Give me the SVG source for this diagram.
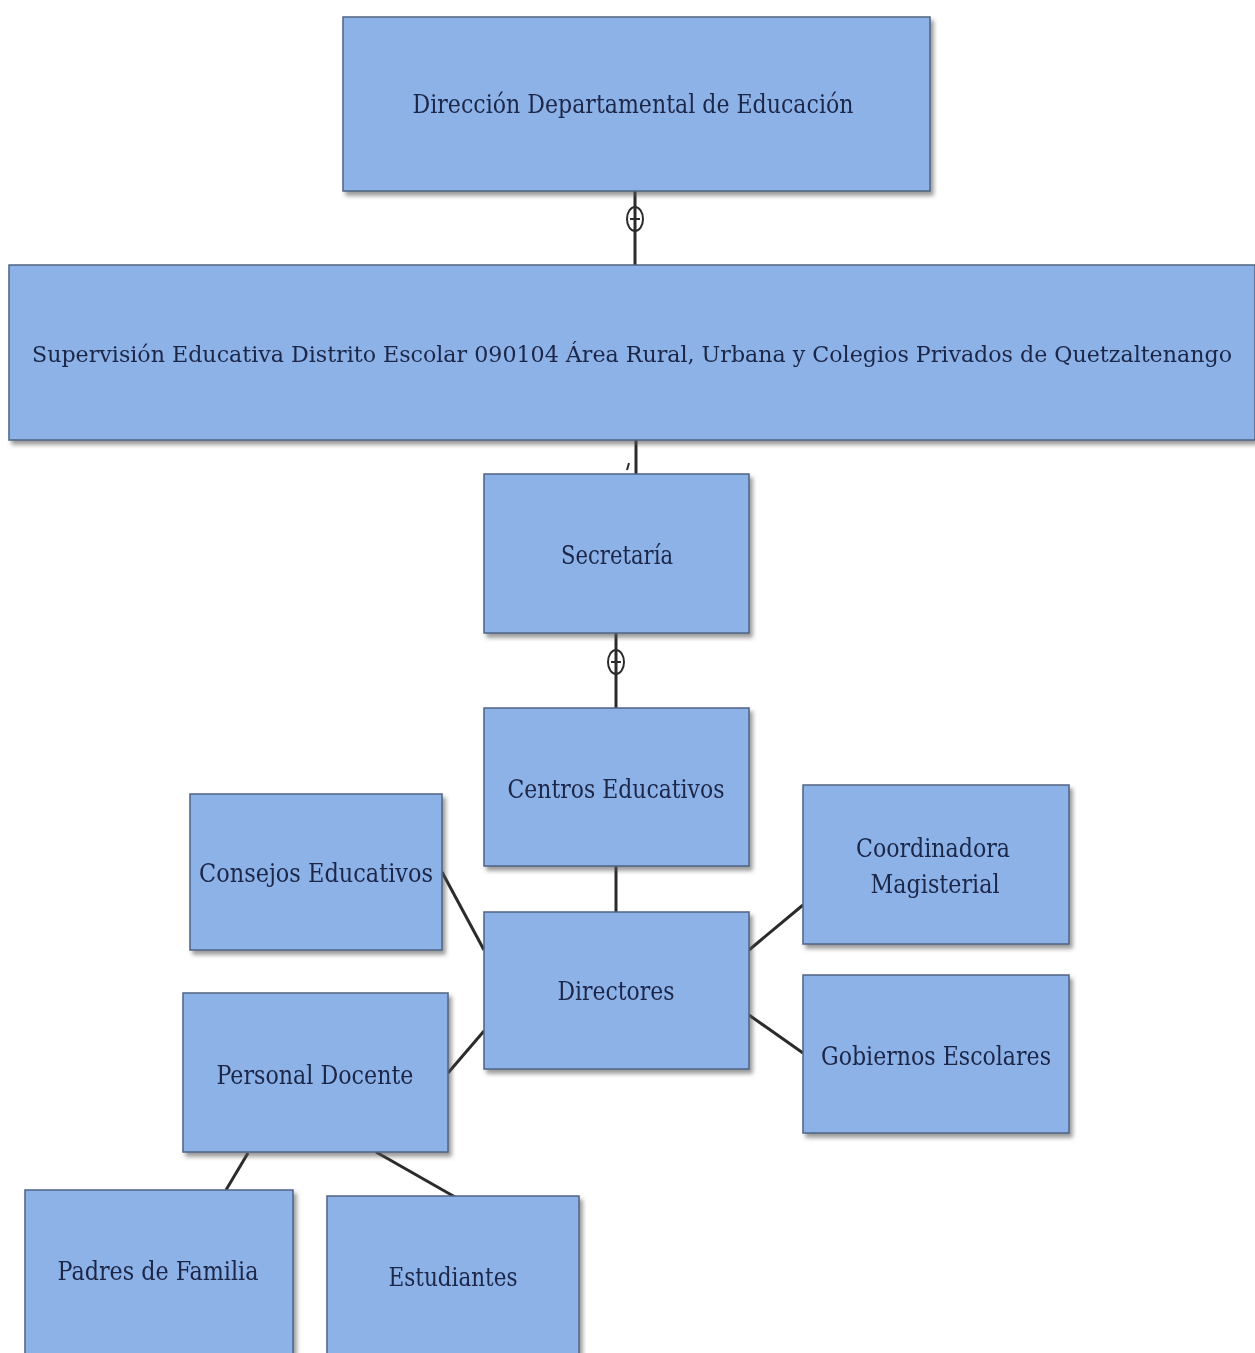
<svg xmlns="http://www.w3.org/2000/svg" width="1255" height="1353" viewBox="0 0 1255 1353">
<style>
.box{fill:#8DB2E8;stroke:#4F6384;stroke-width:1.5}
.t{font-family:"DejaVu Serif Condensed","DejaVu Serif","Liberation Serif",serif;font-size:26px;fill:#1B2546;text-anchor:middle;dominant-baseline:central}
.t.long{font-size:21.5px}
.c{stroke:#2B2B2B;stroke-width:3;fill:none}
.sym{stroke:#2B2B2B;stroke-width:2;fill:none}
</style>
<defs>
<filter id="sh" x="-10%" y="-10%" width="120%" height="130%">
<feDropShadow dx="3" dy="4" stdDeviation="2" flood-color="#555" flood-opacity="0.6"/>
</filter>
</defs>
<rect width="1255" height="1353" fill="#FFFFFF"/>
<g id="connectors">
<line class="c" x1="635" y1="191" x2="635" y2="265"/>
<ellipse class="sym" cx="635" cy="219" rx="8" ry="12"/>
<line class="sym" x1="630" y1="219" x2="640" y2="219"/>
<line class="c" x1="636" y1="440" x2="636" y2="474"/>
<line class="sym" x1="627" y1="470" x2="629" y2="463"/>
<line class="c" x1="616" y1="633" x2="616" y2="708"/>
<ellipse class="sym" cx="616" cy="662" rx="8" ry="12"/>
<line class="sym" x1="611" y1="662" x2="621" y2="662"/>
<line class="c" x1="616" y1="866" x2="616" y2="912"/>
<line class="c" x1="442" y1="872" x2="484" y2="950"/>
<line class="c" x1="448" y1="1073" x2="484" y2="1031"/>
<line class="c" x1="749" y1="950" x2="803" y2="905"/>
<line class="c" x1="749" y1="1015" x2="803" y2="1053"/>
<line class="c" x1="248" y1="1153" x2="226" y2="1190"/>
<line class="c" x1="376" y1="1152" x2="455" y2="1197"/>
</g>
<g id="n1" filter="url(#sh)">
<rect class="box" x="343" y="17" width="587" height="174"/>
<text class="t" x="633" y="104" textLength="441" lengthAdjust="spacingAndGlyphs">Dirección Departamental de Educación</text>
</g>
<g id="n2" filter="url(#sh)">
<rect class="box" x="9" y="265" width="1246" height="175"/>
<text class="t long" x="632" y="354" textLength="1200" lengthAdjust="spacingAndGlyphs">Supervisión Educativa Distrito Escolar 090104 Área Rural, Urbana y Colegios Privados de Quetzaltenango</text>
</g>
<g id="n3" filter="url(#sh)">
<rect class="box" x="484" y="474" width="265" height="159"/>
<text class="t" x="617" y="555" textLength="112" lengthAdjust="spacingAndGlyphs">Secretaría</text>
</g>
<g id="n4" filter="url(#sh)">
<rect class="box" x="484" y="708" width="265" height="158"/>
<text class="t" x="616" y="789" textLength="217" lengthAdjust="spacingAndGlyphs">Centros Educativos</text>
</g>
<g id="n5" filter="url(#sh)">
<rect class="box" x="484" y="912" width="265" height="157"/>
<text class="t" x="616" y="991" textLength="117" lengthAdjust="spacingAndGlyphs">Directores</text>
</g>
<g id="n6" filter="url(#sh)">
<rect class="box" x="190" y="794" width="252" height="156"/>
<text class="t" x="316" y="873" textLength="234" lengthAdjust="spacingAndGlyphs">Consejos Educativos</text>
</g>
<g id="n7" filter="url(#sh)">
<rect class="box" x="183" y="993" width="265" height="159"/>
<text class="t" x="315" y="1075" textLength="197" lengthAdjust="spacingAndGlyphs">Personal Docente</text>
</g>
<g id="n8" filter="url(#sh)">
<rect class="box" x="803" y="785" width="266" height="159"/>
<text class="t" x="933" y="848" textLength="154" lengthAdjust="spacingAndGlyphs">Coordinadora</text>
<text class="t" x="935" y="884" textLength="129" lengthAdjust="spacingAndGlyphs">Magisterial</text>
</g>
<g id="n9" filter="url(#sh)">
<rect class="box" x="803" y="975" width="266" height="158"/>
<text class="t" x="936" y="1056" textLength="230" lengthAdjust="spacingAndGlyphs">Gobiernos Escolares</text>
</g>
<g id="n10" filter="url(#sh)">
<rect class="box" x="25" y="1190" width="268" height="170"/>
<text class="t" x="158" y="1271" textLength="201" lengthAdjust="spacingAndGlyphs">Padres de Familia</text>
</g>
<g id="n11" filter="url(#sh)">
<rect class="box" x="327" y="1196" width="252" height="164"/>
<text class="t" x="453" y="1277" textLength="129" lengthAdjust="spacingAndGlyphs">Estudiantes</text>
</g>
</svg>
